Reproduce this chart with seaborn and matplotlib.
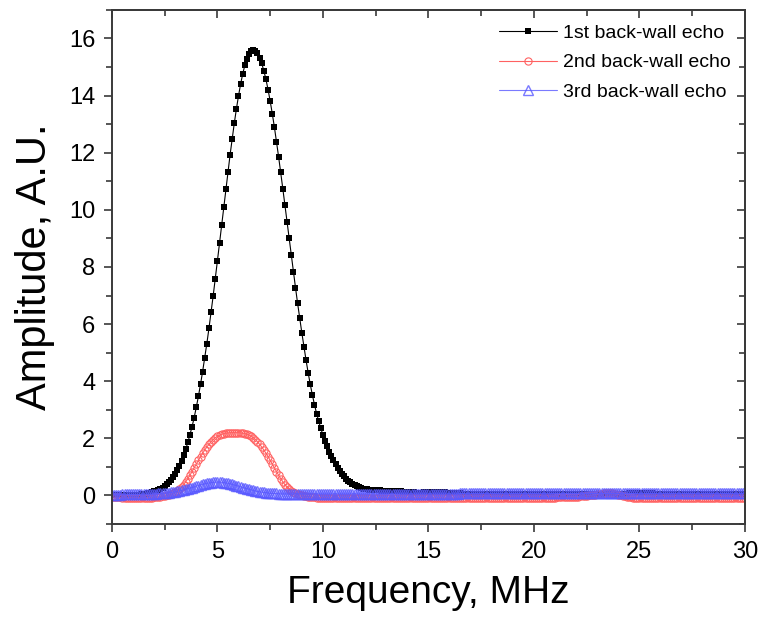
import numpy as np
import matplotlib
matplotlib.use("Agg")
import matplotlib.pyplot as plt
from matplotlib.ticker import MultipleLocator
import seaborn as sns

sns.set_style("ticks")
plt.rcParams['font.family'] = ['Liberation Sans', 'DejaVu Sans']
plt.rcParams['text.color'] = 'black'
plt.rcParams['axes.labelcolor'] = 'black'
plt.rcParams['xtick.color'] = 'black'
plt.rcParams['ytick.color'] = 'black'

# frequency grid step (MHz); each series starts at 0 MHz
freq_step = 0.1

labels = ["1st back-wall echo", "2nd back-wall echo", "3rd back-wall echo"]

# 1st back-wall echo amplitude, 0.0 .. 30.0 MHz
black = [
    0.02, 0.02, 0.02, 0.01, 0.01, 0.01, 0.02, 0.02, 0.02, 0.02, 0.02, 0.03, 0.03, 0.03, 0.04, 0.05, 0.06,
    0.08, 0.10, 0.11, 0.14, 0.16, 0.19, 0.23, 0.28, 0.33, 0.39,
    0.47, 0.55, 0.65, 0.76, 0.90, 1.05, 1.21, 1.41, 1.62, 1.86,
    2.13, 2.41, 2.73, 3.09, 3.47, 3.89, 4.34, 4.82, 5.32, 5.85,
    6.41, 6.99, 7.59, 8.21, 8.83, 9.46, 10.09, 10.72, 11.33, 11.92,
    12.49, 13.03, 13.53, 13.99, 14.40, 14.76, 15.06, 15.29, 15.46, 15.57,
    15.60,
    15.57, 15.48, 15.33, 15.13, 14.87, 14.57, 14.21, 13.81, 13.37, 12.90,
    12.39, 11.86, 11.31, 10.74, 10.16, 9.58, 9.00, 8.42, 7.84, 7.28,
    6.73, 6.21, 5.70, 5.21, 4.74, 4.30, 3.89, 3.52, 3.18, 2.87,
    2.60, 2.35, 2.12, 1.92, 1.72, 1.54, 1.38, 1.23, 1.09, 0.97,
    0.86, 0.76, 0.67, 0.59, 0.52, 0.46, 0.41, 0.36, 0.32, 0.29,
    0.26, 0.24, 0.22, 0.21, 0.20,
    0.19, 0.19, 0.18, 0.18, 0.18, 0.17, 0.17, 0.17, 0.16, 0.16, 0.16, 0.15, 0.15,
    0.14, 0.14, 0.13, 0.13, 0.12, 0.12, 0.11, 0.11, 0.10, 0.10,
    0.10, 0.10, 0.11, 0.11, 0.12, 0.12, 0.12, 0.13, 0.13, 0.13, 0.12, 0.12, 0.11, 0.10, 0.09,
    0.08, 0.08, 0.07, 0.07, 0.07, 0.06, 0.06, 0.06, 0.06, 0.05,
    0.05, 0.05, 0.05, 0.05, 0.04, 0.04, 0.04, 0.04, 0.04, 0.04,
    0.04, 0.04, 0.04, 0.04, 0.04, 0.04, 0.04, 0.04, 0.04, 0.04,
    0.04, 0.04, 0.04, 0.04, 0.04, 0.04, 0.04, 0.04, 0.04, 0.04,
    0.04, 0.04, 0.04, 0.04, 0.04, 0.04, 0.04, 0.04, 0.04, 0.04,
    0.04, 0.04, 0.04, 0.04, 0.04, 0.04, 0.05, 0.05, 0.05, 0.05,
    0.05, 0.05, 0.05, 0.05, 0.05, 0.05, 0.05, 0.05, 0.05, 0.05,
    0.05, 0.05, 0.05, 0.05, 0.05, 0.05, 0.05, 0.05, 0.05, 0.05,
    0.05, 0.06, 0.06, 0.06, 0.07, 0.07, 0.07, 0.08, 0.08, 0.08,
    0.08, 0.08, 0.08, 0.07, 0.07, 0.07, 0.06, 0.06, 0.06, 0.05,
    0.05, 0.05, 0.05, 0.05, 0.05, 0.05, 0.05, 0.05, 0.05, 0.05,
    0.05, 0.05, 0.05, 0.05, 0.05, 0.05, 0.05, 0.05, 0.05, 0.05,
    0.05, 0.05, 0.05, 0.05, 0.05, 0.05, 0.05, 0.05, 0.05, 0.05,
    0.05, 0.05, 0.05, 0.05, 0.05, 0.05, 0.05, 0.05, 0.05, 0.05,
]

# 2nd back-wall echo amplitude, 0.0 .. 30.0 MHz
red = [
    -0.06, -0.06, -0.07, -0.07, -0.07, -0.08, -0.08, -0.08, -0.08, -0.08,
    -0.08, -0.08, -0.08, -0.08, -0.08, -0.08, -0.08, -0.08, -0.08, -0.08,
    -0.07, -0.06, -0.05, -0.04, -0.03, -0.02, 0.00, 0.02, 0.04, 0.07,
    0.11, 0.16, 0.22, 0.29, 0.38, 0.48, 0.59, 0.71, 0.84, 0.97,
    1.10, 1.23, 1.36, 1.48, 1.59, 1.70, 1.79, 1.88, 1.96, 2.02,
    2.07, 2.11, 2.14, 2.17, 2.18, 2.19, 2.20, 2.20, 2.20, 2.20,
    2.20, 2.19, 2.18, 2.17, 2.14, 2.11, 2.07, 2.02, 1.96, 1.88,
    1.79, 1.70, 1.59, 1.48, 1.36, 1.23, 1.10, 0.97, 0.84, 0.71,
    0.59, 0.48, 0.38, 0.29, 0.22, 0.16, 0.11, 0.07, 0.04, 0.02,
    0.00, -0.02, -0.03, -0.04, -0.05, -0.06, -0.07, -0.08, -0.08, -0.08,
    -0.08, -0.08, -0.09, -0.09, -0.09, -0.09, -0.09, -0.09, -0.09, -0.09,
    -0.09, -0.09, -0.09, -0.09, -0.09, -0.09, -0.09, -0.09, -0.09, -0.09,
    -0.09, -0.09, -0.09, -0.09, -0.09, -0.09, -0.09, -0.09, -0.09, -0.09,
    -0.09, -0.09, -0.09, -0.09, -0.09, -0.08, -0.08, -0.08, -0.08, -0.08,
    -0.08, -0.08, -0.08, -0.08, -0.08, -0.08, -0.08, -0.08, -0.08, -0.08,
    -0.08, -0.08, -0.08, -0.08, -0.08, -0.09, -0.09, -0.09, -0.09, -0.09,
    -0.09, -0.09, -0.09, -0.09, -0.09, -0.09, -0.09, -0.09, -0.09, -0.09,
    -0.09, -0.09, -0.09, -0.09, -0.09, -0.10, -0.10, -0.10, -0.10, -0.10,
    -0.10, -0.10, -0.10, -0.10, -0.10, -0.10, -0.10, -0.10, -0.10, -0.10,
    -0.10, -0.10, -0.10, -0.10, -0.10, -0.10, -0.10, -0.10, -0.10, -0.10,
    -0.10, -0.10, -0.10, -0.09, -0.09, -0.09, -0.09, -0.08, -0.08, -0.08,
    -0.08, -0.07, -0.07, -0.07, -0.06, -0.06, -0.06, -0.05, -0.05, -0.05,
    -0.04, -0.04, -0.03, -0.03, -0.02, -0.01, 0.00, 0.01, 0.02, 0.03,
    0.04, 0.05, 0.06, 0.07, 0.08, 0.08, 0.08, 0.07, 0.06, 0.05,
    0.03, 0.01, -0.01, -0.03, -0.05, -0.06, -0.07, -0.08, -0.08, -0.09,
    -0.09, -0.09, -0.09, -0.09, -0.09, -0.09, -0.09, -0.09, -0.09, -0.09,
    -0.10, -0.10, -0.10, -0.10, -0.10, -0.10, -0.10, -0.10, -0.10, -0.10,
    -0.10, -0.10, -0.10, -0.10, -0.10, -0.10, -0.10, -0.10, -0.10, -0.10,
    -0.10, -0.10, -0.10, -0.10, -0.10, -0.10, -0.10, -0.10, -0.10, -0.10,
    -0.10, -0.10, -0.10, -0.10, -0.10, -0.10, -0.10, -0.10, -0.10, -0.10,
    -0.10,
]

# 3rd back-wall echo amplitude, 0.0 .. 30.0 MHz
blue = [
    0.03, 0.03, 0.03, 0.03, 0.03, 0.04, 0.04, 0.04, 0.04, 0.04,
    0.04, 0.04, 0.04, 0.04, 0.04, 0.05, 0.05, 0.05, 0.05, 0.05,
    0.06, 0.06, 0.07, 0.07, 0.08, 0.08, 0.09, 0.10, 0.11, 0.12,
    0.13, 0.14, 0.16, 0.18, 0.20, 0.22, 0.24, 0.26, 0.28, 0.30,
    0.33, 0.35, 0.37, 0.39, 0.41, 0.43, 0.44, 0.45, 0.46, 0.47,
    0.47, 0.47, 0.46, 0.45, 0.44, 0.43, 0.41, 0.39, 0.37, 0.35,
    0.33, 0.30, 0.28, 0.26, 0.24, 0.22, 0.20, 0.18, 0.16, 0.14,
    0.13, 0.12, 0.11, 0.10, 0.09, 0.08, 0.08, 0.07, 0.07, 0.06,
    0.06, 0.06, 0.06, 0.06, 0.06, 0.06, 0.06, 0.06, 0.06, 0.06,
    0.06, 0.06, 0.06, 0.06, 0.06, 0.06, 0.06, 0.06, 0.06, 0.06,
    0.06, 0.06, 0.06, 0.06, 0.06, 0.06, 0.06, 0.06, 0.06, 0.06,
    0.06, 0.06, 0.06, 0.06, 0.06, 0.06, 0.06, 0.06, 0.06, 0.06,
    0.06, 0.06, 0.06, 0.06, 0.06, 0.06, 0.06, 0.06, 0.06, 0.06,
    0.06, 0.06, 0.06, 0.06, 0.06, 0.06, 0.06, 0.06, 0.06, 0.06,
    0.06, 0.06, 0.06, 0.06, 0.06, 0.06, 0.06, 0.06, 0.06, 0.06,
    0.06, 0.06, 0.06, 0.06, 0.06, 0.06, 0.06, 0.06, 0.06, 0.06,
    0.06, 0.06, 0.06, 0.06, 0.06, 0.07, 0.07, 0.07, 0.07, 0.07,
    0.07, 0.07, 0.07, 0.07, 0.07, 0.07, 0.07, 0.07, 0.07, 0.07,
    0.07, 0.07, 0.07, 0.07, 0.07, 0.07, 0.07, 0.07, 0.07, 0.07,
    0.07, 0.07, 0.07, 0.07, 0.07, 0.07, 0.07, 0.07, 0.07, 0.07,
    0.07, 0.07, 0.07, 0.07, 0.07, 0.07, 0.07, 0.07, 0.07, 0.07,
    0.07, 0.07, 0.07, 0.07, 0.07, 0.07, 0.07, 0.07, 0.07, 0.07,
    0.07, 0.07, 0.07, 0.07, 0.07, 0.07, 0.07, 0.07, 0.07, 0.07,
    0.07, 0.07, 0.07, 0.07, 0.07, 0.07, 0.07, 0.07, 0.07, 0.07,
    0.07, 0.07, 0.07, 0.07, 0.07, 0.07, 0.07, 0.07, 0.07, 0.07,
    0.07, 0.07, 0.07, 0.07, 0.07, 0.07, 0.07, 0.07, 0.07, 0.07,
    0.07, 0.07, 0.07, 0.07, 0.07, 0.07, 0.07, 0.07, 0.07, 0.07,
    0.07, 0.07, 0.07, 0.07, 0.07, 0.07, 0.07, 0.07, 0.07, 0.07,
    0.07, 0.07, 0.07, 0.07, 0.07, 0.07, 0.07, 0.07, 0.07, 0.07,
    0.07, 0.07, 0.07, 0.07, 0.07, 0.07, 0.07, 0.07, 0.07, 0.07,
    0.07,
]


def freq_for(values):
    return np.round(np.arange(len(values)) * freq_step, 2)


fig = plt.figure(figsize=(7.61, 6.18), dpi=100)
ax = fig.add_axes([0.147, 0.152, 0.832, 0.832])

spine_col = "#3a3a3a"

sns.lineplot(x=freq_for(black), y=black, ax=ax, color="black", linewidth=0.8,
             marker="s", markersize=4.3, markerfacecolor="black",
             markeredgecolor="black", markeredgewidth=0, label=labels[0])
red_col = (1.0, 0.38, 0.38)
sns.lineplot(x=freq_for(red), y=red, ax=ax, color=red_col, linewidth=0.8,
             marker="o", markersize=5.2, markerfacecolor="none",
             markeredgecolor=red_col, markeredgewidth=0.8, label=labels[1])
blue_col = (0.35, 0.35, 1.0)
sns.lineplot(x=freq_for(blue), y=blue, ax=ax, color=blue_col, linewidth=0.8,
             marker="^", markersize=7.0, markerfacecolor="none",
             markeredgecolor=blue_col, markeredgewidth=1.0, alpha=0.8,
             label=labels[2])

ax.set_xlim(0, 30)
ax.set_ylim(-1, 17)
ax.xaxis.set_major_locator(MultipleLocator(5))
ax.xaxis.set_minor_locator(MultipleLocator(2.5))
ax.yaxis.set_major_locator(MultipleLocator(2))
ax.yaxis.set_minor_locator(MultipleLocator(1))
ax.tick_params(which="major", direction="out", length=6, width=1.2,
               color=spine_col, labelsize=17, pad=6)
ax.tick_params(which="minor", direction="out", length=4, width=1.2,
               color=spine_col)

for s in ax.spines.values():
    s.set_visible(True)
    s.set_linewidth(1.4)
    s.set_color(spine_col)

secx = ax.secondary_xaxis("top")
secx.xaxis.set_major_locator(MultipleLocator(5))
secx.xaxis.set_minor_locator(MultipleLocator(2.5))
secx.tick_params(which="major", direction="in", length=6, width=1.2,
                 color=spine_col, labeltop=False)
secx.tick_params(which="minor", direction="in", length=4, width=1.2,
                 color=spine_col)
secx.spines["top"].set_linewidth(1.4)
secx.spines["top"].set_color(spine_col)

secy = ax.secondary_yaxis("right")
secy.yaxis.set_major_locator(MultipleLocator(2))
secy.yaxis.set_minor_locator(MultipleLocator(1))
secy.tick_params(which="major", direction="in", length=6, width=1.2,
                 color=spine_col, labelright=False)
secy.tick_params(which="minor", direction="in", length=4, width=1.2,
                 color=spine_col)
secy.spines["right"].set_linewidth(1.4)
secy.spines["right"].set_color(spine_col)

ax.set_xlabel("Frequency, MHz", fontsize=28, labelpad=9)
ax.set_ylabel("Amplitude, A.U.", fontsize=30, labelpad=10)

leg = ax.legend(loc="upper right", frameon=False, fontsize=14,
                handlelength=3.0, handletextpad=0.3, labelspacing=0.6,
                borderaxespad=0.45, borderpad=0.3, numpoints=1)

fig.savefig("out.png", dpi=100, facecolor="white")
